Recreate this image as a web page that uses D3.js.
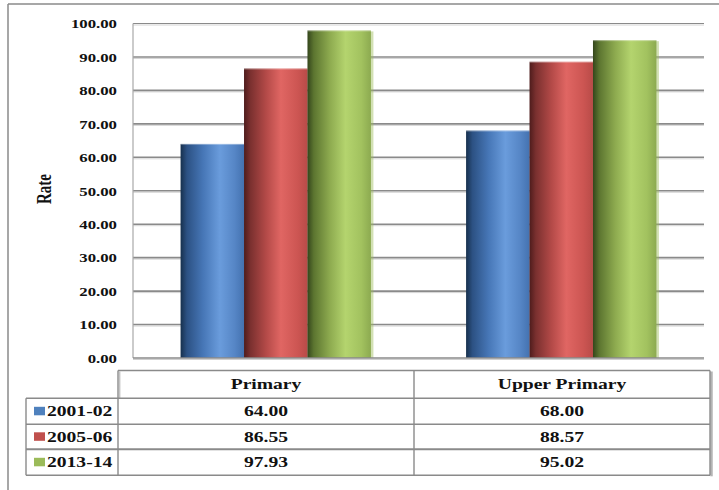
<!DOCTYPE html>
<html>
<head>
<meta charset="utf-8">
<script src="https://cdn.jsdelivr.net/npm/d3@7/dist/d3.min.js"></script>
<style>
  html, body { margin: 0; padding: 0; background: #fff; }
  svg { display: block; }
</style>
</head>
<body>
<svg id="chart" width="719" height="490"></svg>
<script>
// Enrolment rate by school level and period
const categories = ["Primary", "Upper Primary"];
const seriesNames = ["2001-02", "2005-06", "2013-14"];
const values2001 = [64.00, 68.00];
const values2005 = [86.55, 88.57];
const values2013 = [97.93, 95.02];
const yTicks = [0, 10, 20, 30, 40, 50, 60, 70, 80, 90, 100];
const axisTitle = "Rate";

const seriesValues = [values2001, values2005, values2013];
const baseColors = ["#4f81bd", "#c0504d", "#9bbb59"];
const gradStops = [
  [["0%", "#17304d"], ["10%", "#2c5183"], ["35%", "#4676b6"], ["62%", "#6a9cdc"], ["85%", "#5686c6"], ["100%", "#4472b0"]],
  [["0%", "#4e1c1c"], ["10%", "#7a302f"], ["35%", "#b44a48"], ["58%", "#e06663"], ["85%", "#cc5552"], ["100%", "#b84b48"]],
  [["0%", "#34461c"], ["10%", "#5c7530"], ["35%", "#8daa4f"], ["60%", "#b4d46e"], ["85%", "#a2c25f"], ["100%", "#8caa50"]]
];

const svg = d3.select("#chart");
const W = 719, H = 490;
const sx = 1.4; // horizontal text stretch

const plot = { left: 133, right: 704, top: 23.5, bottom: 358 };

// outer frame
svg.append("line").attr("x1", 8).attr("y1", 4).attr("x2", W).attr("y2", 4)
  .attr("stroke", "#8a8a8a").attr("stroke-width", 1.5);
svg.append("line").attr("x1", 8).attr("y1", 4).attr("x2", 8).attr("y2", H)
  .attr("stroke", "#8a8a8a").attr("stroke-width", 1.5);

const defs = svg.append("defs");
gradStops.forEach((stops, i) => {
  const g = defs.append("linearGradient").attr("id", "bar" + i)
    .attr("x1", "0").attr("y1", "0").attr("x2", "1").attr("y2", "0");
  stops.forEach(s => g.append("stop").attr("offset", s[0]).attr("stop-color", s[1]));
});

const x0 = d3.scaleBand().domain(categories).range([plot.left, plot.right]).padding(0);
const bw = x0.bandwidth();
const x1 = d3.scaleBand().domain(seriesNames).range([bw / 6, bw * 5 / 6]).padding(0);
const y = d3.scaleLinear().domain([0, 100]).range([plot.bottom, plot.top]);

// gridlines
const grid = svg.append("g");
yTicks.filter(t => t > 0).forEach(t => {
  grid.append("line").attr("x1", plot.left).attr("x2", plot.right)
    .attr("y1", y(t) + 1.5).attr("y2", y(t) + 1.5)
    .attr("stroke", "#d4d4d4").attr("stroke-width", 1);
  grid.append("line").attr("x1", plot.left).attr("x2", plot.right)
    .attr("y1", y(t)).attr("y2", y(t))
    .attr("stroke", "#8a8a8a").attr("stroke-width", t === 100 ? 1.2 : 1.6);
});

// plot area left edge and base line
svg.append("line").attr("x1", plot.left).attr("x2", plot.left)
  .attr("y1", plot.top).attr("y2", plot.bottom)
  .attr("stroke", "#a8a8a8").attr("stroke-width", 1.2);

// bars
const groups = svg.append("g").selectAll("g").data(categories).join("g")
  .attr("transform", d => `translate(${x0(d)},0)`);

seriesNames.forEach((s, si) => {
  groups.append("rect")
    .attr("x", (d, ci) => x1(s) + 2.5)
    .attr("y", (d, ci) => y(seriesValues[si][ci]) + 1)
    .attr("width", x1.bandwidth())
    .attr("height", (d, ci) => plot.bottom - y(seriesValues[si][ci]) - 1)
    .attr("fill", baseColors[si]).attr("opacity", 0.45);
});
seriesNames.forEach((s, si) => {
  groups.append("rect")
    .attr("x", (d, ci) => x1(s))
    .attr("y", (d, ci) => y(seriesValues[si][ci]))
    .attr("width", x1.bandwidth())
    .attr("height", (d, ci) => plot.bottom - y(seriesValues[si][ci]))
    .attr("fill", `url(#bar${si})`);
  groups.append("line")
    .attr("x1", (d, ci) => x1(s)).attr("x2", (d, ci) => x1(s) + x1.bandwidth())
    .attr("y1", (d, ci) => y(seriesValues[si][ci]) + 0.5)
    .attr("y2", (d, ci) => y(seriesValues[si][ci]) + 0.5)
    .attr("stroke", "#ffffff").attr("stroke-opacity", 0.35).attr("stroke-width", 1);
});

svg.append("line").attr("x1", plot.left).attr("x2", plot.right)
  .attr("y1", plot.bottom + 1.5).attr("y2", plot.bottom + 1.5)
  .attr("stroke", "#cfcfcf").attr("stroke-width", 1.2);
svg.append("line").attr("x1", plot.left).attr("x2", plot.right)
  .attr("y1", plot.bottom).attr("y2", plot.bottom)
  .attr("stroke", "#8a8a8a").attr("stroke-width", 1.6);

// y axis
const yAxis = svg.append("g").attr("transform", `translate(${plot.left},0)`)
  .call(d3.axisLeft(y).tickValues(yTicks).tickFormat(d3.format(".2f")).tickSize(0));
yAxis.select(".domain").remove();
yAxis.selectAll("text")
  .attr("x", -16 / sx).attr("dy", "0.36em")
  .attr("transform", `scale(${sx},1)`)
  .attr("font-family", "'Liberation Serif', 'Times New Roman', serif")
  .attr("font-weight", "bold").attr("font-size", 12).attr("fill", "#111");

// axis title
svg.append("text")
  .attr("transform", `translate(51,189) scale(${sx},1) rotate(-90)`)
  .attr("text-anchor", "middle")
  .attr("font-family", "'Liberation Serif', 'Times New Roman', serif")
  .attr("font-weight", "bold").attr("font-size", 15).attr("fill", "#111")
  .text(axisTitle);

// data table
const tbl = { legendLeft: 26, left: 118, mid: 414, right: 710 };
const rowY = [370.5, 398.3, 424.3, 449.3, 475.3];
const tblG = svg.append("g");
const lineColor = "#8a8a8a";

// shadows
tblG.append("line").attr("x1", tbl.right + 1.5).attr("x2", tbl.right + 1.5)
  .attr("y1", rowY[0] + 1).attr("y2", rowY[4] + 1).attr("stroke", "#b4b4b4").attr("stroke-width", 2.5);
tblG.append("line").attr("x1", tbl.left + 1.6).attr("x2", tbl.left + 1.6)
  .attr("y1", rowY[0] + 1).attr("y2", rowY[1]).attr("stroke", "#c4c4c4").attr("stroke-width", 1.6);

// horizontal rules
tblG.append("line").attr("x1", tbl.left).attr("x2", tbl.right)
  .attr("y1", rowY[0]).attr("y2", rowY[0]).attr("stroke", lineColor).attr("stroke-width", 1.4);
rowY.slice(1).forEach((yy, i) => {
  tblG.append("line").attr("x1", tbl.legendLeft).attr("x2", tbl.right)
    .attr("y1", yy).attr("y2", yy).attr("stroke", lineColor)
    .attr("stroke-width", i === 2 ? 2 : 1.4);
});
// vertical rules
[[tbl.left, rowY[0]], [tbl.mid, rowY[0]], [tbl.right, rowY[0]], [tbl.legendLeft, rowY[1]]].forEach(([xx, y0]) => {
  tblG.append("line").attr("x1", xx).attr("x2", xx)
    .attr("y1", y0).attr("y2", rowY[4]).attr("stroke", lineColor).attr("stroke-width", 1.4);
});

const colCenters = [(tbl.left + tbl.mid) / 2, (tbl.mid + tbl.right) / 2];
const cellText = (xx, yy, txt, anchor) => tblG.append("text")
  .attr("transform", `translate(${xx},${yy}) scale(${sx},1)`)
  .attr("text-anchor", anchor).attr("dy", "0.35em")
  .attr("font-family", "'Liberation Serif', 'Times New Roman', serif")
  .attr("font-weight", "bold").attr("font-size", 14).attr("fill", "#111")
  .text(txt);

categories.forEach((c, ci) => cellText(colCenters[ci], (rowY[0] + rowY[1]) / 2, c, "middle"));

seriesNames.forEach((s, si) => {
  const cy = (rowY[si + 1] + rowY[si + 2]) / 2;
  tblG.append("rect").attr("x", 34).attr("y", cy - 4.5).attr("width", 11).attr("height", 8.5)
    .attr("fill", baseColors[si]);
  cellText(47, cy, s, "start");
  categories.forEach((c, ci) => cellText(colCenters[ci], cy, d3.format(".2f")(seriesValues[si][ci]), "middle"));
});
</script>
</body>
</html>
